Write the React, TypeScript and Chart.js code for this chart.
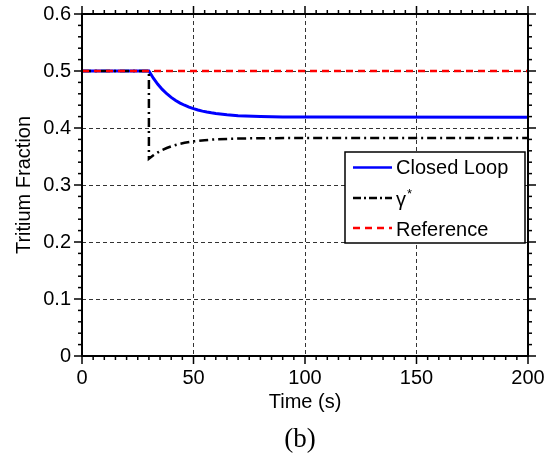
import { useEffect, useRef } from "react";
import { Chart, registerables } from "chart.js";

Chart.register(...registerables);

// Closed-loop tritium fraction response
const closedLoopTime = [0, 30, 32, 34, 36, 38, 40, 42, 44, 46, 48, 50, 52, 54, 56, 58, 60, 65, 70, 80, 90, 100, 200];
const closedLoopValue = [0.5, 0.5, 0.4874, 0.4767, 0.4677, 0.4601, 0.4537, 0.4483, 0.4437, 0.4399, 0.4366, 0.4339, 0.4316, 0.4296, 0.428, 0.4266, 0.4254, 0.4232, 0.4217, 0.4202, 0.4195, 0.4192, 0.419];

// Optimal fraction γ*
const gammaTime = [0, 30, 30, 32, 34, 36, 38, 40, 43, 46, 50, 55, 60, 70, 80, 100, 200];
const gammaValue = [0.5, 0.5, 0.346, 0.3521, 0.3571, 0.3613, 0.3649, 0.3678, 0.3713, 0.374, 0.3766, 0.3787, 0.3801, 0.3815, 0.3821, 0.3824, 0.3825];

// Reference fraction
const referenceTime = [0, 200];
const referenceValue = [0.5, 0.5];

const timeRange = [0, 200];
const fractionRange = [0, 0.6];
const legendLabels = ["Closed Loop", "γ", "Reference"];

const SANS = '"Liberation Sans", Arial, Helvetica, sans-serif';
const SERIF = '"Liberation Serif", "DejaVu Serif", serif';

const toPoints = (xs: number[], ys: number[]) => xs.map((x, i) => ({ x, y: ys[i] }));

const decorPlugin = {
  id: "decor",
  afterDraw(chart: any) {
    const { ctx, chartArea: a, scales } = chart;
    const xs = scales.x;
    const ys = scales.y;
    const seg = (x1: number, y1: number, x2: number, y2: number) => {
      ctx.beginPath();
      ctx.moveTo(x1, y1);
      ctx.lineTo(x2, y2);
      ctx.stroke();
    };
    ctx.save();
    ctx.setLineDash([]);
    ctx.strokeStyle = "#000";

    // outward ticks on all four sides
    ctx.lineWidth = 1.5;
    for (let i = 0; i <= 40; i++) {
      const px = xs.getPixelForValue(i * 5);
      const len = i % 10 === 0 ? 8 : 4;
      seg(px, a.bottom, px, a.bottom + len);
      seg(px, a.top, px, a.top - len);
    }
    for (let i = 0; i <= 30; i++) {
      const py = ys.getPixelForValue(i * 0.02);
      const len = i % 5 === 0 ? 8 : 4;
      seg(a.left, py, a.left - len, py);
      seg(a.right, py, a.right + len, py);
    }

    // plot frame
    ctx.lineWidth = 2;
    ctx.strokeRect(a.left, a.top, a.right - a.left, a.bottom - a.top);

    // legend
    const lx = 345, ly = 152, lw = 180, lh = 91;
    ctx.fillStyle = "#fff";
    ctx.fillRect(lx, ly, lw, lh);
    ctx.lineWidth = 1.5;
    ctx.strokeRect(lx, ly, lw, lh);

    const rows = [
      { y: 167.5, color: "#0000ff", dash: [] as number[] },
      { y: 198, color: "#000000", dash: [8, 3, 2, 3] },
      { y: 228, color: "#ff0000", dash: [7, 5] },
    ];
    ctx.lineWidth = 2.5;
    rows.forEach((r) => {
      ctx.strokeStyle = r.color;
      ctx.setLineDash(r.dash);
      seg(353, r.y, 392, r.y);
    });
    ctx.setLineDash([]);

    ctx.fillStyle = "#000";
    ctx.font = `20px ${SANS}`;
    ctx.textAlign = "left";
    ctx.textBaseline = "middle";
    ctx.fillText(legendLabels[0], 396, 168);
    ctx.fillText(legendLabels[2], 396, 230);
    ctx.textBaseline = "alphabetic";
    ctx.fillText(legendLabels[1], 396, 206);
    const gw = ctx.measureText(legendLabels[1]).width;
    ctx.font = `13px ${SANS}`;
    ctx.fillText("*", 396 + gw + 1, 198);

    // axis titles
    ctx.font = `20px ${SANS}`;
    ctx.textAlign = "center";
    ctx.textBaseline = "middle";
    ctx.fillText("Time (s)", (a.left + a.right) / 2, 402);
    ctx.save();
    ctx.translate(24, (a.top + a.bottom) / 2);
    ctx.rotate(-Math.PI / 2);
    ctx.fillText("Tritium Fraction", 0, 0);
    ctx.restore();

    // panel caption
    ctx.font = `27px ${SERIF}`;
    ctx.fillText("(b)", 300, 440);
    ctx.restore();
  },
};

export default function App() {
  const canvasRef = useRef<HTMLCanvasElement | null>(null);

  useEffect(() => {
    const canvas = canvasRef.current;
    if (!canvas) return;
    const chart = new Chart(canvas, {
      type: "line",
      data: {
        datasets: [
          {
            label: legendLabels[2],
            data: toPoints(referenceTime, referenceValue),
            borderColor: "#ff0000",
            borderWidth: 2.5,
            borderDash: [7, 5],
            pointRadius: 0,
            order: 0,
          },
          {
            label: legendLabels[1] + "*",
            data: toPoints(gammaTime, gammaValue),
            borderColor: "#000000",
            borderWidth: 2.5,
            borderDash: [9, 4, 2, 4],
            pointRadius: 0,
            order: 1,
          },
          {
            label: legendLabels[0],
            data: toPoints(closedLoopTime, closedLoopValue),
            borderColor: "#0000ff",
            borderWidth: 3,
            pointRadius: 0,
            order: 2,
          },
        ],
      },
      options: {
        responsive: false,
        animation: false,
        parsing: false,
        layout: { padding: { top: 14, right: 26, left: 0, bottom: 0 } },
        plugins: { legend: { display: false }, tooltip: { enabled: false } },
        elements: { line: { tension: 0, borderCapStyle: "butt" } },
        scales: {
          x: {
            type: "linear",
            min: timeRange[0],
            max: timeRange[1],
            afterFit: (s: any) => {
              s.height = 103;
              s.paddingLeft = 0;
              s.paddingRight = 0;
            },
            ticks: {
              stepSize: 50,
              color: "#000",
              padding: 10,
              maxRotation: 0,
              font: { family: SANS, size: 20 },
            },
            grid: { color: "#333", lineWidth: 1, drawTicks: false },
            border: { display: false, dash: [4, 3] },
          },
          y: {
            type: "linear",
            min: fractionRange[0],
            max: fractionRange[1],
            afterFit: (s: any) => {
              s.width = 82;
              s.paddingTop = 0;
              s.paddingBottom = 0;
            },
            ticks: {
              stepSize: 0.1,
              color: "#000",
              padding: 11,
              font: { family: SANS, size: 20 },
              callback: (v: any) => String(Number(Number(v).toFixed(1))),
            },
            grid: { color: "#333", lineWidth: 1, drawTicks: false },
            border: { display: false, dash: [4, 3] },
          },
        },
      },
      plugins: [decorPlugin],
    });
    return () => chart.destroy();
  }, []);

  return (
    <div style={{ position: "fixed", left: 0, top: 0, width: 554, height: 459, background: "#fff" }}>
      <canvas ref={canvasRef} width={554} height={459} />
    </div>
  );
}
